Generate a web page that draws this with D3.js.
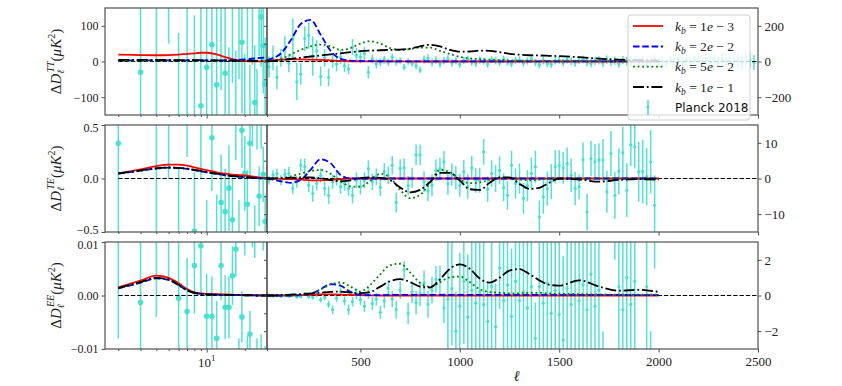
<!DOCTYPE html>
<html>
<head>
<meta charset="utf-8">
<script src="https://cdn.jsdelivr.net/npm/d3@7"></script>
<style>
  body { margin: 0; background: #fff; }
  svg { display: block; }
</style>
</head>
<body>
<div id="chart"></div>
<script>
// ---- data ----
// unbinned low multipoles (log part) and binned high multipoles (linear part, bins of 20)
const ellLow = [2,3,4,5,6,7,8,9,10,11,12,13,14,15,16,17,18,19,20,21,22,23,24,25,26,27,28,29];
const ellHiTT = d3.range(40, 2500, 20);
const ellHiPol = d3.range(40, 2000, 20);

// theory curve nodes
const gridLow = [2,3,4,5,6,7,8,9,10,12,14,16,18,20,22,25,30];
const gridHigh = [30,50,100,150,200,250,300,350,400,450,500,550,600,650,700,750,800,850,900,950,1000,1050,1100,1150,1200,1250,1300,1350,1400,1450,1500,1600,1700,1800,1900,2000];

// TT theory residuals (left part in left-axis units, right part in right-axis units)
const ttLo1e3 = [19,18,17.5,18,19.5,21.5,23,24.5,24.5,20,12,6.5,3,1.2,0.6,0.3,0.2];
const ttLo2e2 = [3,3,3,3,3,3,3,3,3,3.2,3.5,4,5,6,7,9,12];
const ttLo5e2 = [2,2,2,2,2,2,2,2,2,2,2,2,2,2,2,2.5,3];
const ttLo1e1 = [4.5,4.5,4.3,4.2,4,4,3.8,3.6,3.4,3,2.6,2.3,2,1.8,1.6,1.4,1.2];
const ttHi1e3 = [3,6,10,12,12,11,9,6,3,1.5,0.8,0.5,0.3,0.2,0.2,0.1,0.1,0.1,0.1,0.1,0.1,0.1,0.1,0.1,0.1,0.1,0.1,0.1,0.1,0.1,0.1,0.1,0.1,0.1,0.1,0.1];
const ttHi2e2 = [8,15,45,120,210,233,150,60,15,5,3,2,1.5,1,1,1,1,1,1,1,1,1,1,1,1,1,1,1,1,1,1,1,1,1,1,1];
const ttHi5e2 = [1,3,15,40,65,85,95,85,65,75,100,114,100,75,65,70,78,78,60,42,26,18,13,10,8,6,5,4,4,3,3,2,2,1,1,1];
const ttHi1e1 = [0,2,8,15,22,28,34,40,46,52,58,61,63,65,67,72,85,94,85,65,55,56,61,60,52,43,38,35,34,32,30,24,16,10,7,5];

// TE theory residuals
const teLo1e3 = [0.047,0.085,0.115,0.13,0.13,0.12,0.105,0.09,0.078,0.058,0.045,0.037,0.032,0.028,0.022,0.012,0.001];
const teLo2e2 = [0.045,0.073,0.093,0.101,0.098,0.09,0.078,0.068,0.058,0.043,0.03,0.022,0.016,0.011,0.008,0.003,0];
const teLo5e2 = [0.046,0.074,0.094,0.102,0.099,0.091,0.079,0.069,0.059,0.044,0.031,0.023,0.017,0.012,0.008,0.003,0];
const teLo1e1 = [0.047,0.075,0.095,0.103,0.1,0.092,0.08,0.07,0.06,0.045,0.032,0.024,0.018,0.013,0.009,0.004,0.001];
const teHi1e3 = [0,0,-0.1,-0.2,-0.3,-0.5,-0.5,-0.4,-0.2,0,0,0,0,0,0,0,0,0,0,0,0,0,0,0,0,0,0,0,0,0,0,0,0,0,0,0];
const teHi2e2 = [0,-0.2,-0.8,-1.2,-0.4,2.5,5.4,4.3,1,0,0,0,0,0,0,0,0,0,0,0,0,0,0,0,0,0,0,0,0,0,0,0,0,0,0,0];
const teHi5e2 = [0,0,0.2,0.6,1.4,2.1,2.4,1.3,-0.8,-2.2,-2.3,-0.6,1.3,0.2,-3.2,-5.5,-4.6,-1.2,2.4,1.8,-0.3,-1.3,-1.1,-0.4,0.2,0.1,-0.3,-0.5,-0.3,-0.1,0,0,0,0,0,0];
const teHi1e1 = [0,0,0.1,0.2,0.3,0.3,0.1,-0.4,-0.75,-0.5,0.1,0.3,0.2,-0.5,-2.5,-3.9,-3.2,-1,1.6,1.6,-0.6,-3,-3.2,-1.2,0.3,0.3,-1.5,-2.9,-2.6,-1.2,0,-0.3,-0.9,-0.4,-0.2,-0.3];

// EE theory residuals
const eeLo1e3 = [0.0015,0.0028,0.0037,0.0033,0.0023,0.0012,0.0006,0.0004,0.0003,0.00025,0.0002,0.00015,0.0001,0.0001,0.0001,0.00005,0];
const eeLo2e2 = [0.0013,0.0024,0.0032,0.0029,0.0019,0.001,0.0005,0.0003,0.0002,0.00015,0.0001,0.0001,0.0001,0.00005,0.00005,0,0];
const eeLo5e2 = [0.00135,0.00245,0.00325,0.00295,0.00195,0.001,0.0005,0.0003,0.0002,0.00015,0.0001,0.0001,0.0001,0.00005,0.00005,0,0];
const eeLo1e1 = [0.0014,0.0025,0.0033,0.003,0.002,0.001,0.0005,0.0003,0.0002,0.00015,0.0001,0.0001,0.0001,0.00005,0.00005,0,0];
const eeHi1e3 = [0,0,0,0.01,0.02,0.04,0.06,0.06,0.05,0.03,0.02,0.01,0,0,0,0,0,0,0,0,0,0,0,0,0,0,0,0,0,0,0,0,0,0,0,0];
const eeHi2e2 = [0,0,0,0,0.02,0.1,0.35,0.64,0.55,0.2,0.04,0.02,0.02,0.03,0.04,0.04,0.04,0.04,0.04,0.04,0.04,0.04,0.04,0.04,0.04,0.04,0.04,0.04,0.04,0.04,0.04,0.03,0.03,0.03,0.02,0.02];
const eeHi5e2 = [0,0,0,0,0.02,0.1,0.35,0.62,0.73,0.5,0.22,0.6,1.2,1.7,1.78,1.3,0.7,0.5,0.75,1.02,1.06,0.75,0.35,0.2,0.15,0.12,0.12,0.15,0.15,0.12,0.1,0.08,0.06,0.05,0.05,0.04];
const eeHi1e1 = [0,0,0.02,0.05,0.08,0.12,0.16,0.2,0.22,0.16,0.13,0.2,0.5,0.8,0.92,0.75,0.5,0.45,0.9,1.5,1.75,1.5,0.95,0.72,1,1.4,1.48,1.2,0.85,0.6,0.55,0.85,0.5,0.27,0.32,0.2];

// Planck 2018 residuals, low ell
const ttLowVal = [-900,-30,250,300,-250,200,-250,-124,-16,47,-65,220,-33,-220,190,-200,170,54,-180,190,-190,160,-115,-170,165,125,45,-63];
const ttLowErr = [500,400,450,250,330,400,380,300,280,260,240,300,220,260,250,230,220,200,200,190,180,170,160,150,150,140,135,130];
const teLowVal = [0.33,1.2,0.7,0.6,-0.65,0.8,-0.49,0.6,-0.7,0.38,-0.6,-0.225,-0.31,-0.09,-0.385,0.55,-0.55,0.45,0.047,-0.24,0.33,0.6,-0.55,0.55,-0.166,0.55,0.04,-0.4];
const teLowErr = [0.9,0.6,1.3,0.6,0.75,0.6,0.55,0.6,0.5,0.5,0.45,0.45,0.4,0.4,0.4,0.38,0.35,0.35,0.35,0.32,0.3,0.3,0.3,0.28,0.28,0.27,0.26,0.25];
const eeLowVal = [0.012,-0.0013,0.016,0.014,-0.0005,-0.003,0.0056,0.0093,-0.0039,-0.0039,-0.008,0.0056,-0.0022,-0.0022,0.0037,0.0087,-0.013,-0.004,0.012,-0.012,-0.0072,0.013,0.011,-0.012,0.014,-0.011,0.012,-0.013];
const eeLowErr = [0.02,0.015,0.02,0.011,0.012,0.01,0.009,0.009,0.008,0.0075,0.007,0.0065,0.006,0.0058,0.0055,0.0052,0.005,0.0048,0.0045,0.0045,0.0043,0.004,0.004,0.004,0.0038,0.0037,0.0036,0.0035];

// Planck 2018 residuals, binned high ell
const ttHiVal = [-30,20,-89,20,72,-10,128,-113,-70,128,147,30,60,-83,20,-89,5,-15,25,-25,-42,81,35,25,45,-60,
  15,-13,-4,10,-4,24,-4,5,-32,0,-10,-25,-47,
  10,18,-5,8,-12,5,15,-8,3,-15,6,12,-4,-10,8,2,-14,10,4,-6,12,-3,-12,6,9,-8,3,14,-5,-18,
  5,-12,-15,4,8,-6,10,2,-9,6,12,-4,-10,3,7,-8,10,-2,5,-12,8,2,-6,10,-3,6,-9,4,12,-5,
  3,-10,8,0,12,-6,5,-12,9,2,-8,14,-4,6,-10,10,4,-6,15,5,-8,18,8,-5];
const ttHiErr = [60,70,66,50,70,50,113,104,60,70,75,110,60,55,50,50,40,40,40,35,30,45,40,35,35,35,
  25,25,22,22,20,20,20,18,18,18,18,18,18,
  22,22,22,21,21,21,20,20,20,20,20,20,20,20,20,20,20,20,20,20,20,20,20,20,20,20,20,21,21,21,
  21,21,21,21,21,21,21,21,22,22,22,22,22,22,22,23,23,23,23,23,23,24,24,24,24,24,25,25,25,25,
  26,26,27,27,28,28,29,30,30,31,32,33,34,35,36,36,37,38,38,39,40,40,41,42];
const teHiVal = [-0.5,1.0,1.4,-0.5,1.2,1.4,-2.8,-1.0,3.7,3.3,-1.9,-4.2,-1.4,0.9,-2.8,-4.7,-0.9,0,-2.3,-1.4,-2.8,-4.7,-0.5,-2.3,-0.5,
  2.8,-0.9,0.5,-2.5,1.9,0.9,3.7,-6.7,2.8,3.0,-2.0,0.2,6.6,6.6,-0.9,-3.5,-1.9,2.3,2.8,4.7,
  -1.5,1.1,0.2,-1.9,1.9,-2.3,3.0,-0.5,-0.5,7.5,-3.0,1.4,0,2.3,-2.5,-4.7,3.7,-1.4,0,-5.6,
  -2.0,1.4,3.3,-10.8,-5.2,-2.8,-0.9,3.3,3.7,3.0,4.2,0.9,-2.8,-2.3,5.2,-9.4,5.6,4.7,5.2,5.2,
  -3.7,7.0,-4.7,2.0,7.2,-3.3,9.4,8.9,1.9,1.9,0.5,4.7,-7.5];
const teHiErr = [1.2,1.3,1.3,1.4,1.5,1.8,1.5,1.6,1.8,2.3,1.9,2.3,2.0,2.0,2.0,2.5,2.0,2.0,2.0,2.0,2.0,2.3,2.2,2.2,2.2,
  2.3,2.3,2.3,2.4,2.4,2.5,2.6,2.8,2.6,2.6,2.7,2.8,2.9,2.9,2.9,2.9,3.0,3.0,3.0,3.0,
  3.1,3.1,3.2,3.2,3.3,3.4,3.4,3.5,3.5,3.6,3.6,3.7,3.8,3.9,3.9,4.0,4.1,4.2,4.2,4.3,
  4.4,4.5,4.5,4.6,4.7,4.8,4.9,4.7,4.2,4.5,4.5,4.7,4.7,3.5,4.9,5.2,4.9,5.0,4.7,5.9,
  5.9,6.3,6.6,6.5,7.3,7.5,5.9,6.1,8.4,8.9,8.0,8.9,8.4];
const eeHiVal = [0.02,-0.03,0.01,-0.05,0.02,-0.04,0.03,-0.08,-0.05,0.1,-0.06,-0.1,0.05,-0.24,-0.1,-0.5,-0.8,-0.15,0.2,-0.3,
  -0.8,-0.35,0.1,-0.24,-0.6,0.15,-0.45,-0.2,-0.94,-0.3,0.4,-0.2,-0.8,0.3,1.44,-1.0,0.2,-0.4,0.1,0.7,-0.5,0.3,0.9,0.88,-0.7,
  -0.2,0.4,-2.0,-0.6,0.8,-1.2,0.3,-0.43,0.2,-0.5,-1.46,0.5,-1.74,1.54,-0.3,0.6,-1.18,0.79,-0.3,0.2,
  -0.7,0.5,-2.4,0.5,-0.43,0.7,-1.0,0.3,-1.05,-2.5,0.4,-0.5,0.8,-0.3,0.6,-0.8,1.2,-0.6,0.3,-4.5,
  -8,8,4.5,0.5,-0.8,1.0,-0.5,0.8,7,-8,0.5,-4.5,4.0];
const eeHiErr = [0.06,0.06,0.06,0.07,0.07,0.08,0.08,0.09,0.1,0.1,0.12,0.13,0.15,0.15,0.17,0.2,0.25,0.22,0.25,0.25,
  0.3,0.28,0.3,0.3,0.32,0.33,0.35,0.36,0.37,0.4,0.45,0.45,0.5,0.5,0.5,0.6,0.6,0.65,0.7,0.7,0.75,0.75,0.75,0.8,0.85,
  3.5,3.2,2.2,3.0,3.5,3.5,3.3,3.5,3.6,3.8,2.2,3.8,2.4,2.3,4.0,4.0,3.8,4.0,4.0,4.0,
  4.2,4.2,2.0,4.5,4.5,4.5,4.5,4.6,4.6,4.7,4.8,4.8,4.9,5.0,5.0,5.1,5.2,5.2,5.3,2.5,
  3,3.5,2.5,6,6,6,6,6,3,3.5,6.5,2.5,2.5];

const legendExp = [['1','3'], ['2','2'], ['5','2'], ['1','1']];

// ---- layout ----
const W = 842, H = 386;
const X0 = 105, XM = 267, X1 = 758;
const PH = 107;
const SERIF = '"Liberation Serif", "DejaVu Serif", serif';
const SANS = '"DejaVu Sans", sans-serif';
const CYAN = '#40e0d0';
const FRAME = '#505050';

const models = [
  {color: '#ff0000', dash: null},
  {color: '#0000ff', dash: '6.5,2.8'},
  {color: '#008000', dash: '1.8,2.8'},
  {color: '#000000', dash: '11,2.8,1.8,2.8'}
];

const panels = [
  {sup: 'TT', top: 8, lo: [-150, 150], hi: [-300, 300], loTicks: [-100, 0, 100], fmt: d3.format('d'),
   hiLab: [-200, 0, 200], hiTicks: [-200, -100, 0, 100, 200],
   lowVal: ttLowVal, lowErr: ttLowErr, hiEll: ellHiTT, hiVal: ttHiVal, hiErr: ttHiErr,
   loCurves: [ttLo1e3, ttLo2e2, ttLo5e2, ttLo1e1], hiCurves: [ttHi1e3, ttHi2e2, ttHi5e2, ttHi1e1]},
  {sup: 'TE', top: 125, lo: [-0.5, 0.5], hi: [-15, 15], loTicks: [-0.5, 0, 0.5], fmt: d3.format('.1f'),
   hiLab: [-10, 0, 10], hiTicks: [-10, -5, 0, 5, 10],
   lowVal: teLowVal, lowErr: teLowErr, hiEll: ellHiPol, hiVal: teHiVal, hiErr: teHiErr,
   loCurves: [teLo1e3, teLo2e2, teLo5e2, teLo1e1], hiCurves: [teHi1e3, teHi2e2, teHi5e2, teHi1e1]},
  {sup: 'EE', top: 242, lo: [-0.01, 0.01], hi: [-3, 3], loTicks: [-0.01, 0, 0.01], fmt: d3.format('.2f'),
   hiLab: [-2, 0, 2], hiTicks: [-2, -1, 0, 1, 2],
   lowVal: eeLowVal, lowErr: eeLowErr, hiEll: ellHiPol, hiVal: eeHiVal, hiErr: eeHiErr,
   loCurves: [eeLo1e3, eeLo2e2, eeLo5e2, eeLo1e1], hiCurves: [eeHi1e3, eeHi2e2, eeHi5e2, eeHi1e1]}
];

const svg = d3.select('#chart').append('svg').attr('width', W).attr('height', H);
const defs = svg.append('defs');

const xLo = d3.scaleLog().domain([1.57, 30]).range([X0, XM]);
const xHi = d3.scaleLinear().domain([30, 2500]).range([XM, X1]);

function drawPoints(g, xs, ys, ells, vals, errs, r) {
  const pts = ells.map((l, i) => ({l: l, v: vals[i], e: errs[i]}));
  g.append('g').selectAll('line').data(pts).join('line')
    .attr('x1', d => xs(d.l)).attr('x2', d => xs(d.l))
    .attr('y1', d => ys(d.v - d.e)).attr('y2', d => ys(d.v + d.e))
    .attr('stroke', CYAN).attr('stroke-width', 1.5).attr('opacity', 0.9);
  g.append('g').selectAll('circle').data(pts).join('circle')
    .attr('cx', d => xs(d.l)).attr('cy', d => ys(d.v)).attr('r', r)
    .attr('fill', CYAN).attr('opacity', 0.95);
}

function drawCurves(g, xs, ys, grid, series) {
  const line = d3.line().x(d => xs(d[0])).y(d => ys(d[1])).curve(d3.curveMonotoneX);
  series.forEach((vals, k) => {
    g.append('path').attr('d', line(grid.map((l, i) => [l, vals[i]])))
      .attr('fill', 'none').attr('stroke', models[k].color).attr('stroke-width', 1.8)
      .attr('stroke-dasharray', models[k].dash);
  });
}

function zeroLine(g, xs, ys, a, b) {
  g.append('line').attr('x1', xs(a)).attr('x2', xs(b)).attr('y1', ys(0)).attr('y2', ys(0))
    .attr('stroke', '#000').attr('stroke-width', 1.2).attr('stroke-dasharray', '4.4,1.9');
}

function styleAxis(g, size) {
  g.select('.domain').remove();
  g.selectAll('line').attr('stroke', FRAME).attr('stroke-width', 1);
  g.selectAll('text').attr('fill', '#222');
  g.attr('font-family', SERIF).attr('font-size', size || 13);
}

function yLabel(xc, yc, sup) {
  const t = svg.append('text').attr('transform', `translate(${xc},${yc}) rotate(-90)`)
    .attr('text-anchor', 'middle').attr('font-family', SERIF).attr('font-size', 15).attr('fill', '#222');
  t.append('tspan').text('Δ');
  t.append('tspan').attr('font-style', 'italic').text('D');
  t.append('tspan').attr('font-style', 'italic').attr('font-size', 10).attr('dy', 3).text('ℓ');
  t.append('tspan').attr('font-style', 'italic').attr('font-size', 10).attr('dx', -3).attr('dy', -10).text(sup);
  t.append('tspan').attr('dy', 7).text('(');
  t.append('tspan').attr('font-style', 'italic').text('μK');
  t.append('tspan').attr('font-size', 10).attr('dy', -6).text('2');
  t.append('tspan').attr('dy', 6).text(')');
}

panels.forEach((p, i) => {
  const y0 = p.top, y1 = p.top + PH;
  const yLo = d3.scaleLinear().domain(p.lo).range([y1, y0]);
  const yHi = d3.scaleLinear().domain(p.hi).range([y1, y0]);
  const last = i === panels.length - 1;

  defs.append('clipPath').attr('id', 'clipL' + i).append('rect')
    .attr('x', X0).attr('y', y0).attr('width', XM - X0).attr('height', PH);
  defs.append('clipPath').attr('id', 'clipR' + i).append('rect')
    .attr('x', XM).attr('y', y0).attr('width', X1 - XM).attr('height', PH);

  // left part: log ell
  const gL = svg.append('g').attr('clip-path', `url(#clipL${i})`);
  drawPoints(gL, xLo, yLo, ellLow, p.lowVal, p.lowErr, 2.8);
  zeroLine(gL, xLo, yLo, 2, 30);
  drawCurves(gL, xLo, yLo, gridLow, p.loCurves);

  // right part: linear ell
  const gR = svg.append('g').attr('clip-path', `url(#clipR${i})`);
  drawPoints(gR, xHi, yHi, p.hiEll, p.hiVal, p.hiErr, 1.6);
  zeroLine(gR, xHi, yHi, 30, 2500);
  drawCurves(gR, xHi, yHi, gridHigh, p.hiCurves);

  // frame and divider
  svg.append('rect').attr('x', X0).attr('y', y0).attr('width', X1 - X0).attr('height', PH)
    .attr('fill', 'none').attr('stroke', FRAME).attr('stroke-width', 1.2);
  svg.append('line').attr('x1', XM).attr('x2', XM).attr('y1', y0).attr('y2', y1)
    .attr('stroke', '#111').attr('stroke-width', 1.2);

  // y axes
  const axL = svg.append('g').attr('transform', `translate(${X0},0)`)
    .call(d3.axisLeft(yLo).tickValues(p.loTicks).tickFormat(p.fmt).tickSize(3.5).tickPadding(3));
  styleAxis(axL, 12);
  // labels sitting on a panel edge are nudged inward so neighbouring panels don't collide
  axL.selectAll('.tick text').attr('transform', d =>
    (d === p.lo[0] && !last) ? 'translate(0,-2.5)' : (d === p.lo[1] && i > 0) ? 'translate(0,2.5)' : null);
  const axR = svg.append('g').attr('transform', `translate(${X1},0)`)
    .call(d3.axisRight(yHi).tickValues(p.hiLab).tickFormat(d3.format('d')).tickSize(3.5).tickPadding(3));
  styleAxis(axR);
  const axM = svg.append('g').attr('transform', `translate(${XM},0)`)
    .call(d3.axisLeft(yHi).tickValues(p.hiTicks).tickFormat('').tickSize(3));
  styleAxis(axM);

  // x axes
  const axLogMinor = svg.append('g').attr('transform', `translate(0,${y1})`)
    .call(d3.axisBottom(xLo).tickValues([2,3,4,5,6,7,8,9,20,30]).tickFormat('').tickSize(2));
  styleAxis(axLogMinor);
  const axLogMajor = svg.append('g').attr('transform', `translate(0,${y1})`)
    .call(d3.axisBottom(xLo).tickValues([10]).tickFormat('').tickSize(3.5));
  styleAxis(axLogMajor);
  const axLin = svg.append('g').attr('transform', `translate(0,${y1})`)
    .call(d3.axisBottom(xHi).tickValues([500,1000,1500,2000,2500])
      .tickFormat(last ? d3.format('d') : '').tickSize(3.5).tickPadding(4));
  styleAxis(axLin);

  if (last) {
    const t = svg.append('text').attr('x', xLo(10)).attr('y', y1 + 18)
      .attr('text-anchor', 'middle').attr('font-family', SERIF).attr('font-size', 13).attr('fill', '#222');
    t.append('tspan').text('10');
    t.append('tspan').attr('font-size', 9).attr('dy', -6).text('1');
  }

  yLabel(61, y0 + PH / 2, p.sup);
});

// x label
svg.append('text').attr('x', (XM + X1) / 2 + 4).attr('y', 381).attr('text-anchor', 'middle')
  .attr('font-family', SERIF).attr('font-style', 'italic').attr('font-size', 15).attr('fill', '#222').text('ℓ');

// legend
const lg = svg.append('g');
lg.append('rect').attr('x', 628).attr('y', 15).attr('width', 122).attr('height', 105).attr('rx', 3)
  .attr('fill', '#fff').attr('fill-opacity', 0.8).attr('stroke', '#d0d0d0').attr('stroke-width', 1);
const rowY = [26, 46.5, 66.7, 87, 107];
models.forEach((m, k) => {
  const yy = rowY[k];
  lg.append('line').attr('x1', 633).attr('x2', 663).attr('y1', yy).attr('y2', yy)
    .attr('stroke', m.color).attr('stroke-width', 1.8).attr('stroke-dasharray', m.dash);
  const t = lg.append('text').attr('x', 675).attr('y', yy + 4.5)
    .attr('font-family', SERIF).attr('font-size', 13.5).attr('fill', '#222');
  t.append('tspan').attr('font-style', 'italic').text('k');
  t.append('tspan').attr('font-style', 'italic').attr('font-size', 9.5).attr('dy', 3).text('b');
  t.append('tspan').attr('dy', -3).text(' = ' + legendExp[k][0]);
  t.append('tspan').attr('font-style', 'italic').text('e');
  t.append('tspan').text(' − ' + legendExp[k][1]);
});
lg.append('line').attr('x1', 648).attr('x2', 648).attr('y1', rowY[4] - 7).attr('y2', rowY[4] + 8)
  .attr('stroke', CYAN).attr('stroke-width', 1.5);
lg.append('circle').attr('cx', 648).attr('cy', rowY[4]).attr('r', 1.6).attr('fill', CYAN);
lg.append('text').attr('x', 675).attr('y', rowY[4] + 4.5).attr('font-family', SANS).attr('font-size', 12)
  .attr('fill', '#111').text('Planck 2018');
</script>
</body>
</html>
